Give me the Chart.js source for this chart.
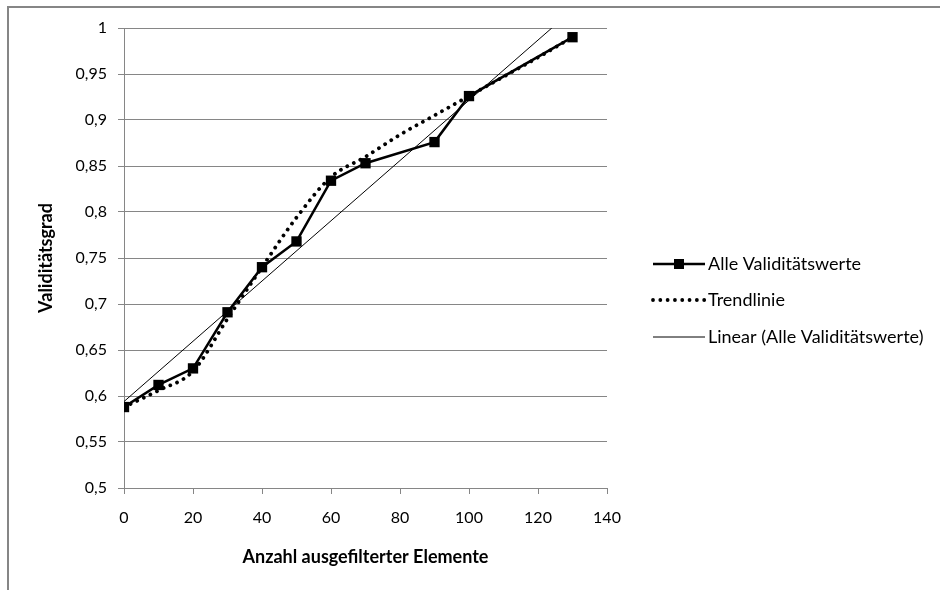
<!DOCTYPE html>
<html>
<head>
<meta charset="utf-8">
<script src="https://cdn.jsdelivr.net/npm/chart.js@4"></script>
<style>
  html, body { margin: 0; padding: 0; background: #fff; }
  #wrap { width: 940px; height: 590px; position: relative; }
</style>
</head>
<body>
<div id="wrap"><canvas id="line-chart"></canvas></div>
<script>
// values
var elemente = [0, 10, 20, 30, 40, 50, 60, 70, 90, 100, 130];
var validitaet = [0.588, 0.612, 0.630, 0.691, 0.740, 0.768, 0.834, 0.853, 0.876, 0.926, 0.990];

var trendX = [0, 10, 20, 30, 40, 50, 60, 70, 80, 90, 100, 110, 120, 130];
var trendY = [0.588, 0.606, 0.627, 0.684, 0.740, 0.794, 0.838, 0.860, 0.884, 0.905, 0.926, 0.947, 0.968, 0.990];

var linearX = [0, 124];
var linearY = [0.594, 1.0];

var labels = ["Alle Validitätswerte", "Trendlinie", "Linear (Alle Validitätswerte)"];

function pts(xs, ys) {
  return xs.map(function (x, i) { return { x: x, y: ys[i] }; });
}

var FONT = "Lato";
var GREY = "#868686";

// frame + legend drawn by hand, like the office chart
var frameLegend = {
  id: "frameLegend",
  beforeDraw: function (chart) {
    var ctx = chart.ctx;
    ctx.save();
    ctx.strokeStyle = GREY;
    ctx.lineWidth = 2;
    ctx.beginPath();
    ctx.moveTo(8, 590);
    ctx.lineTo(8, 7);
    ctx.lineTo(940, 7);
    ctx.stroke();
    ctx.restore();
  },
  afterDraw: function (chart) {
    var ctx = chart.ctx;
    var x0 = 653, x1 = 705, rows = [264, 300, 337];
    ctx.save();
    chart.data.datasets.forEach(function (ds, i) {
      var y = rows[i];
      ctx.strokeStyle = "#000";
      ctx.lineWidth = ds.borderWidth;
      ctx.lineCap = ds.borderCapStyle || "butt";
      ctx.setLineDash(ds.borderDash || []);
      ctx.beginPath();
      ctx.moveTo(x0, y);
      ctx.lineTo(x1, y);
      ctx.stroke();
      ctx.setLineDash([]);
      if (ds.pointRadius > 0) {
        ctx.fillStyle = "#000";
        ctx.fillRect((x0 + x1) / 2 - 5, y - 5, 10, 10);
      }
      ctx.fillStyle = "#000";
      ctx.font = "18px " + FONT;
      ctx.textBaseline = "middle";
      ctx.textAlign = "left";
      ctx.fillText(ds.label, x1 + 3, y);
    });
    ctx.restore();
  }
};

new Chart(document.getElementById("line-chart"), {
  type: "line",
  data: {
    datasets: [{
        label: labels[0],
        data: pts(elemente, validitaet),
        borderColor: "#000",
        backgroundColor: "#000",
        borderWidth: 2.5,
        pointStyle: "rect",
        pointRadius: 7.3,
        pointBorderWidth: 0,
        fill: false,
        order: 0
      }, {
        label: labels[1],
        data: pts(trendX, trendY),
        borderColor: "#000",
        borderWidth: 3.8,
        borderDash: [0.01, 7.3],
        borderCapStyle: "round",
        cubicInterpolationMode: "monotone",
        pointRadius: 0,
        fill: false,
        order: 1
      }, {
        label: labels[2],
        data: pts(linearX, linearY),
        borderColor: "#000",
        borderWidth: 1,
        pointRadius: 0,
        fill: false,
        order: 2
      }
    ]
  },
  options: {
    responsive: true,
    maintainAspectRatio: false,
    animation: false,
    layout: { padding: { left: 0, top: 28, right: 333, bottom: 0 } },
    plugins: {
      legend: { display: false },
      tooltip: { enabled: false }
    },
    scales: {
      x: {
        type: "linear",
        min: 0,
        max: 140,
        ticks: {
          stepSize: 20,
          color: "#000",
          padding: 14,
          font: { family: FONT, size: 16 }
        },
        grid: { drawOnChartArea: false, color: GREY, tickLength: 6 },
        border: { color: GREY, width: 1 },
        title: {
          display: true,
          text: "Anzahl ausgefilterter Elemente",
          color: "#000",
          font: { family: FONT, size: 18, weight: "bold" },
          padding: { top: 0, bottom: 22 }
        },
        afterFit: function (s) { s.height = 590 - 488; }
      },
      y: {
        min: 0.5,
        max: 1,
        ticks: {
          stepSize: 0.05,
          color: "#000",
          padding: 11,
          font: { family: FONT, size: 16 },
          callback: function (v) { return String(Math.round(v * 100) / 100).replace(".", ","); }
        },
        grid: { color: GREY, tickLength: 6 },
        border: { color: GREY, width: 1 },
        title: {
          display: true,
          text: "Validitätsgrad",
          color: "#000",
          font: { family: FONT, size: 18, weight: "bold" },
          padding: { top: 35, bottom: 0 }
        },
        afterFit: function (s) { s.width = 124; }
      }
    }
  },
  plugins: [frameLegend]
});
</script>
</body>
</html>
